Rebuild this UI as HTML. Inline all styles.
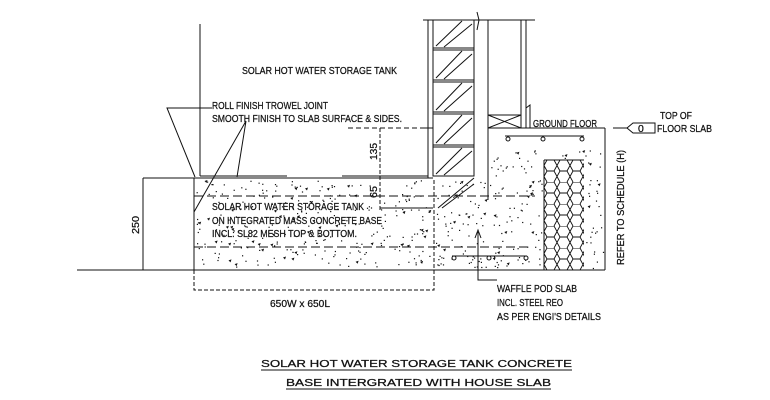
<!DOCTYPE html>
<html><head><meta charset="utf-8"><style>
html,body{margin:0;padding:0;background:#fff;width:770px;height:400px;overflow:hidden}
svg{display:block}
text{font-family:"Liberation Sans",sans-serif;font-size:10.5px;fill:#111;stroke:#111;stroke-width:0.25}
</style></head><body>
<svg id="s" width="770" height="400" viewBox="0 0 770 400" stroke="#111" fill="none" stroke-width="1">
<defs>
<pattern id="hex" x="544" y="160" width="13" height="22" patternUnits="userSpaceOnUse">
<path d="M0,5.5 L3,0 L10,0 L13,5.5 L10,11 L3,11 Z M3,11 L0,16.5 L3,22 M10,11 L13,16.5 L10,22 M-3,16.5 L0,16.5 M13,16.5 L16,16.5" stroke="#111" stroke-width="0.9" fill="none"/>
</pattern>
</defs>
<line x1="200" y1="24" x2="200" y2="176"/>
<line x1="200" y1="176" x2="287" y2="176"/>
<line x1="342" y1="176" x2="428" y2="176"/>
<line x1="428" y1="20" x2="428" y2="178"/>
<line x1="423" y1="20" x2="535" y2="20"/>
<line x1="433" y1="20" x2="433" y2="176"/>
<line x1="474" y1="20" x2="474" y2="176"/>
<line x1="488" y1="20" x2="488" y2="200"/>
<line x1="521" y1="20" x2="521" y2="128"/>
<line x1="526" y1="20" x2="526" y2="128"/>
<path d="M526,108 L530,105 L530,128"/>
<path d="M477,12 L479,20 L477,30" />
<g id="cells"></g>
<rect x="488" y="115" width="33" height="13"/>
<path d="M488,115 L521,128 M521,115 L488,128"/>
<line x1="420" y1="128" x2="433" y2="128"/>
<line x1="488" y1="128" x2="605" y2="128"/>
<line x1="605" y1="128" x2="605" y2="270"/>
<line x1="143" y1="178" x2="194" y2="178"/>
<line x1="194" y1="178" x2="433" y2="178"/>
<line x1="143" y1="178" x2="143" y2="270"/>
<line x1="77" y1="270" x2="605" y2="270"/>
<line x1="194" y1="178" x2="194" y2="270"/>
<line x1="433" y1="176" x2="474" y2="176"/>
<path d="M194,270 L194,290 L434,290 L434,178" stroke-dasharray="4,2"/>
<line x1="194" y1="196" x2="535" y2="196" stroke-dasharray="9,4"/>
<line x1="194" y1="247" x2="530" y2="247" stroke-dasharray="9,4"/>
<line x1="348" y1="128" x2="432" y2="128" stroke-dasharray="5,3"/>
<line x1="380" y1="128" x2="380" y2="210" stroke-dasharray="4,2"/>
<line x1="380" y1="208" x2="433" y2="208"/>
<path d="M438,208 L474,178 M442,208 L474,184" />
<rect x="544" y="160" width="40" height="110" fill="url(#hex)" stroke="none"/>
<line x1="544" y1="160" x2="544" y2="270"/>
<line x1="544" y1="160" x2="584" y2="160"/>
<line x1="505" y1="136" x2="584" y2="136"/>
<circle cx="508" cy="139" r="2"/><circle cx="543" cy="139" r="2"/><circle cx="582" cy="139" r="2"/>
<line x1="452" y1="256" x2="527" y2="256"/>
<circle cx="454" cy="258" r="2"/><circle cx="489" cy="258" r="2"/><circle cx="526" cy="258" r="2"/>
<g id="dots" fill="#111" stroke="none"></g>
<path d="M212,108 L167,108 L195,177"/>
<path d="M246,121 L194,212 M246,121 L237,177"/>
<path d="M478,232 L478,280 L497,280"/>
<path d="M475,238 L478,230 L481,238"/>
<line x1="613" y1="128" x2="628" y2="128"/>
<path d="M627,128 L633,123 L655,123 L655,133 L633,133 Z"/>
<g>
<text x="242" y="74" textLength="155" lengthAdjust="spacingAndGlyphs">SOLAR HOT WATER STORAGE TANK</text>
<text x="212" y="109" textLength="116" lengthAdjust="spacingAndGlyphs">ROLL FINISH TROWEL JOINT</text>
<text x="212" y="122" textLength="190" lengthAdjust="spacingAndGlyphs">SMOOTH FINISH TO SLAB SURFACE &amp; SIDES.</text>
<text x="212" y="210" textLength="152" lengthAdjust="spacingAndGlyphs">SOLAR HOT WATER STORAGE TANK</text>
<text x="212" y="224" textLength="170" lengthAdjust="spacingAndGlyphs">ON INTEGRATED MASS CONCRETE BASE</text>
<text x="212" y="237" textLength="145" lengthAdjust="spacingAndGlyphs">INCL. SL82 MESH TOP &amp; BOTTOM.</text>
<text x="533" y="127" textLength="64" lengthAdjust="spacingAndGlyphs">GROUND FLOOR</text>
<text x="638" y="132" font-size="8">0</text>
<text x="660" y="119" textLength="32" lengthAdjust="spacingAndGlyphs">TOP OF</text>
<text x="657" y="132" textLength="55" lengthAdjust="spacingAndGlyphs">FLOOR SLAB</text>
<text x="497" y="292" textLength="80" lengthAdjust="spacingAndGlyphs">WAFFLE POD SLAB</text>
<text x="497" y="306" textLength="66" lengthAdjust="spacingAndGlyphs">INCL. STEEL REO</text>
<text x="497" y="320" textLength="104" lengthAdjust="spacingAndGlyphs">AS PER ENGI'S DETAILS</text>
<text x="270" y="307" textLength="60" lengthAdjust="spacingAndGlyphs">650W x 650L</text>
<text transform="translate(139,234) rotate(-90)" textLength="18" lengthAdjust="spacingAndGlyphs">250</text>
<text transform="translate(377,160) rotate(-90)" textLength="17" lengthAdjust="spacingAndGlyphs">135</text>
<text transform="translate(377,198) rotate(-90)" textLength="12" lengthAdjust="spacingAndGlyphs">65</text>
<text transform="translate(624,265) rotate(-90)" textLength="115" lengthAdjust="spacingAndGlyphs">REFER TO SCHEDULE (H)</text>
<text x="261" y="367" font-size="14.5" textLength="311" lengthAdjust="spacingAndGlyphs">SOLAR HOT WATER STORAGE TANK CONCRETE</text>
<text x="286" y="386" font-size="14.5" textLength="265" lengthAdjust="spacingAndGlyphs">BASE INTERGRATED WITH HOUSE SLAB</text>
</g>
<line x1="261" y1="370" x2="572" y2="370"/>
<line x1="286" y1="389" x2="551" y2="389"/>
</svg>
<script>
var c=document.getElementById("cells"),h="";
var ys=[[20,48],[50,80],[82,112],[114,145],[147,176]];
ys.forEach(function(p){h+='<rect x="433" y="'+p[0]+'" width="41" height="'+(p[1]-p[0])+'"/>';
h+='<path d="M436,'+(p[1]-2)+' L462,'+(p[0]+1)+' M444,'+(p[1]-1)+' L472,'+(p[0]+4)+'"/>';});
c.innerHTML=h;
var s=12345;function r(){s=(s*16807)%2147483647;return s/2147483647;}
var d="";
function fill(x0,y0,x1,y1,n){for(var i=0;i<n;i++){var x=x0+r()*(x1-x0),y=y0+r()*(y1-y0);
if(x>542&&x<586&&y>158)continue;
if(r()<0.15){d+='<path d="M'+x.toFixed(1)+','+y.toFixed(1)+' l3,-1 l-1,3 z"/>';}else d+='<rect x="'+x.toFixed(1)+'" y="'+y.toFixed(1)+'" width="1.2" height="1.2"/>';}}
fill(196,180,432,268,300);fill(436,180,486,268,80);fill(490,150,603,268,200);
document.getElementById("dots").innerHTML=d;
</script>
</body></html>
